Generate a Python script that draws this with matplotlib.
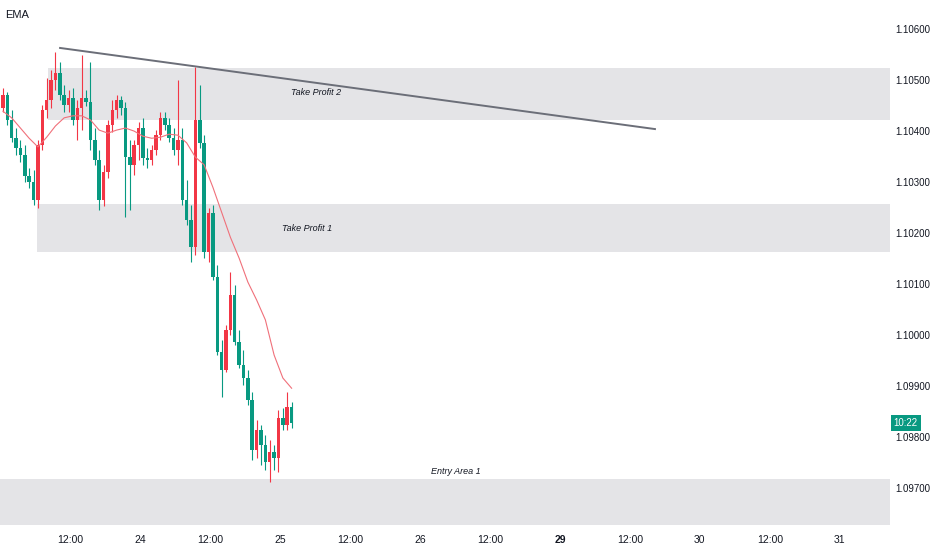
import matplotlib
matplotlib.use("Agg")
import matplotlib.pyplot as plt
import matplotlib.transforms as mtransforms
import numpy as np

plt.rcParams['font.family'] = ['Liberation Sans', 'DejaVu Sans']

# candle data (EURUSD-like, 45 min bars)
opens = [1.10445, 1.10471, 1.10422, 1.10386, 1.10367, 1.10353, 1.10312, 1.10300, 1.10265, 1.10373,
         1.10441, 1.10461, 1.10500, 1.10514, 1.10471, 1.10451, 1.10465, 1.10422, 1.10445, 1.10465,
         1.10457, 1.10383, 1.10343, 1.10265, 1.10320, 1.10412, 1.10441, 1.10461, 1.10445, 1.10349,
         1.10334, 1.10373, 1.10406, 1.10347, 1.10343, 1.10363, 1.10392, 1.10426, 1.10412, 1.10386,
         1.10363, 1.10383, 1.10265, 1.10226, 1.10173, 1.10422, 1.10377, 1.10163, 1.10240, 1.10114,
         1.09967, 1.09932, 1.10010, 1.10079, 1.09987, 1.09942, 1.09916, 1.09873, 1.09775, 1.09814,
         1.09785, 1.09752, 1.09771, 1.09759, 1.09838, 1.09824, 1.09859]
highs = [1.10485, 1.10477, 1.10441, 1.10406, 1.10383, 1.10373, 1.10328, 1.10324, 1.10383, 1.10451,
         1.10504, 1.10520, 1.10555, 1.10535, 1.10490, 1.10481, 1.10485, 1.10461, 1.10549, 1.10481,
         1.10535, 1.10406, 1.10363, 1.10334, 1.10422, 1.10461, 1.10471, 1.10469, 1.10457, 1.10383,
         1.10383, 1.10418, 1.10426, 1.10367, 1.10373, 1.10402, 1.10438, 1.10438, 1.10426, 1.10406,
         1.10500, 1.10406, 1.10304, 1.10255, 1.10526, 1.10490, 1.10392, 1.10249, 1.10255, 1.10138,
         1.09991, 1.10020, 1.10124, 1.10098, 1.10010, 1.09971, 1.09932, 1.09889, 1.09834, 1.09824,
         1.09804, 1.09795, 1.09785, 1.09853, 1.09857, 1.09889, 1.09869]
lows = [1.10438, 1.10412, 1.10379, 1.10353, 1.10340, 1.10300, 1.10289, 1.10255, 1.10249, 1.10363,
        1.10426, 1.10445, 1.10481, 1.10461, 1.10438, 1.10438, 1.10412, 1.10383, 1.10402, 1.10449,
        1.10363, 1.10334, 1.10245, 1.10253, 1.10308, 1.10398, 1.10426, 1.10432, 1.10232, 1.10245,
        1.10314, 1.10343, 1.10334, 1.10328, 1.10334, 1.10353, 1.10383, 1.10402, 1.10379, 1.10353,
        1.10334, 1.10255, 1.10216, 1.10144, 1.10157, 1.10367, 1.10151, 1.10144, 1.10108, 1.09961,
        1.09879, 1.09928, 1.10000, 1.09981, 1.09936, 1.09902, 1.09863, 1.09755, 1.09759, 1.09746,
        1.09736, 1.09712, 1.09736, 1.09732, 1.09814, 1.09814, 1.09818]
closes = [1.10471, 1.10422, 1.10386, 1.10367, 1.10353, 1.10312, 1.10300, 1.10265, 1.10373, 1.10441,
          1.10461, 1.10500, 1.10514, 1.10471, 1.10451, 1.10465, 1.10422, 1.10445, 1.10465, 1.10457,
          1.10383, 1.10343, 1.10265, 1.10320, 1.10412, 1.10441, 1.10461, 1.10445, 1.10349, 1.10334,
          1.10373, 1.10406, 1.10347, 1.10343, 1.10363, 1.10392, 1.10426, 1.10412, 1.10386, 1.10363,
          1.10383, 1.10265, 1.10226, 1.10173, 1.10422, 1.10377, 1.10163, 1.10240, 1.10114, 1.09967,
          1.09932, 1.10010, 1.10079, 1.09987, 1.09942, 1.09916, 1.09873, 1.09775, 1.09814, 1.09785,
          1.09752, 1.09771, 1.09759, 1.09838, 1.09824, 1.09859, 1.09828]

# EMA as drawn on the chart (every second bar)
ema_bar = list(range(0, 67, 2))
ema_val = [1.10439, 1.10426, 1.10406, 1.10386, 1.10369, 1.10388, 1.10410, 1.10426, 1.10430, 1.10430,
           1.10422, 1.10402, 1.10396, 1.10402, 1.10406, 1.10400, 1.10390, 1.10386, 1.10388, 1.10394,
           1.10392, 1.10377, 1.10349, 1.10334, 1.10290, 1.10241, 1.10192, 1.10151, 1.10104, 1.10069,
           1.10030, 1.09961, 1.09916, 1.09896]

# zones
zone_names = ["Take Profit 2", "Take Profit 1", "Entry Area 1"]
zone_low = [1.10422, 1.10163, 1.09628]
zone_high = [1.10524, 1.10257, 1.09718]
zone_start = [8.2, 6.3, 0.0]  # hours

# trend line (hours, price)
trend_time = [10.3, 112.3]
trend_price = [1.10563, 1.10404]

# axes labels
x_ticks = [12, 24, 36, 48, 60, 72, 84, 96, 108, 120, 132, 144]
x_labels = ["12:00", "24", "12:00", "25", "12:00", "26", "12:00", "29", "12:00", "30", "12:00", "31"]
y_ticks = [1.097, 1.098, 1.099, 1.100, 1.101, 1.102, 1.103, 1.104, 1.105, 1.106]

UP = "#F23645"
DOWN = "#089981"
TXT = "#131722"

fig = plt.figure(figsize=(9.32, 5.5), dpi=100)
ax = fig.add_axes([0, 22/550, 890/932, 528/550])
xmax = 152.6
ax.set_xlim(0, xmax)
ax.set_ylim(1.09622, 1.10657)

# zones + labels
for nm, lo, hi, st in zip(zone_names, zone_low, zone_high, zone_start):
    ax.fill_between([st, xmax], lo, hi, color="#e4e4e7", lw=0, zorder=0)
ax.text(54.2, 1.10475, zone_names[0], fontsize=6.5, style="italic", color=TXT, ha="center", va="center")
ax.text(52.6, 1.10210, zone_names[1], fontsize=6.5, style="italic", color=TXT, ha="center", va="center")
ax.text(78.2, 1.09732, zone_names[2], fontsize=6.5, style="italic", color=TXT, ha="center", va="center")

# candles
t = 0.5 + 0.75*np.arange(len(opens))
o = np.array(opens); c = np.array(closes)
cols = [UP if cc >= oo else DOWN for oo, cc in zip(o, c)]
ax.vlines(t, lows, highs, colors=cols, lw=0.8, zorder=2)
body = np.where(np.abs(c-o) < 0.00003, 0.00003, c-o)
ax.bar(t, body, bottom=o, width=0.6, color=cols, lw=0, zorder=3)

# ema
ax.plot(0.5 + 0.75*np.array(ema_bar), ema_val, color="#f0707a", lw=0.8, zorder=4)

# trend line
ax.plot(trend_time, trend_price, color="#6b6e78", lw=1.4, zorder=5)

# axes styling
for s in ax.spines.values():
    s.set_visible(False)
ax.set_xticks(x_ticks)
ax.set_xticklabels(x_labels)
for lb in ax.get_xticklabels():
    if lb.get_text() == "29":
        lb.set_fontweight("bold")
ax.yaxis.tick_right()
ax.set_yticks(y_ticks)
ax.set_yticklabels([f"{v:.5f}" for v in y_ticks])
ax.tick_params(axis="both", length=0, labelsize=7, labelcolor=TXT)
ax.tick_params(axis="x", pad=5, labelsize=7.5)
ax.tick_params(axis="y", pad=4)

# current bar tag
tr = mtransforms.blended_transform_factory(ax.transAxes, ax.transData)
ax.text(1.004, closes[-1], "10:22", transform=tr, fontsize=7, color="white", ha="left", va="center",
        bbox=dict(boxstyle="square,pad=0.3", fc=DOWN, ec="none"), zorder=10, clip_on=False)

fig.text(5/932, 1-15/550, "EMA", fontsize=8, color=TXT, ha="left", va="center")

fig.savefig("out.png", dpi=100)
